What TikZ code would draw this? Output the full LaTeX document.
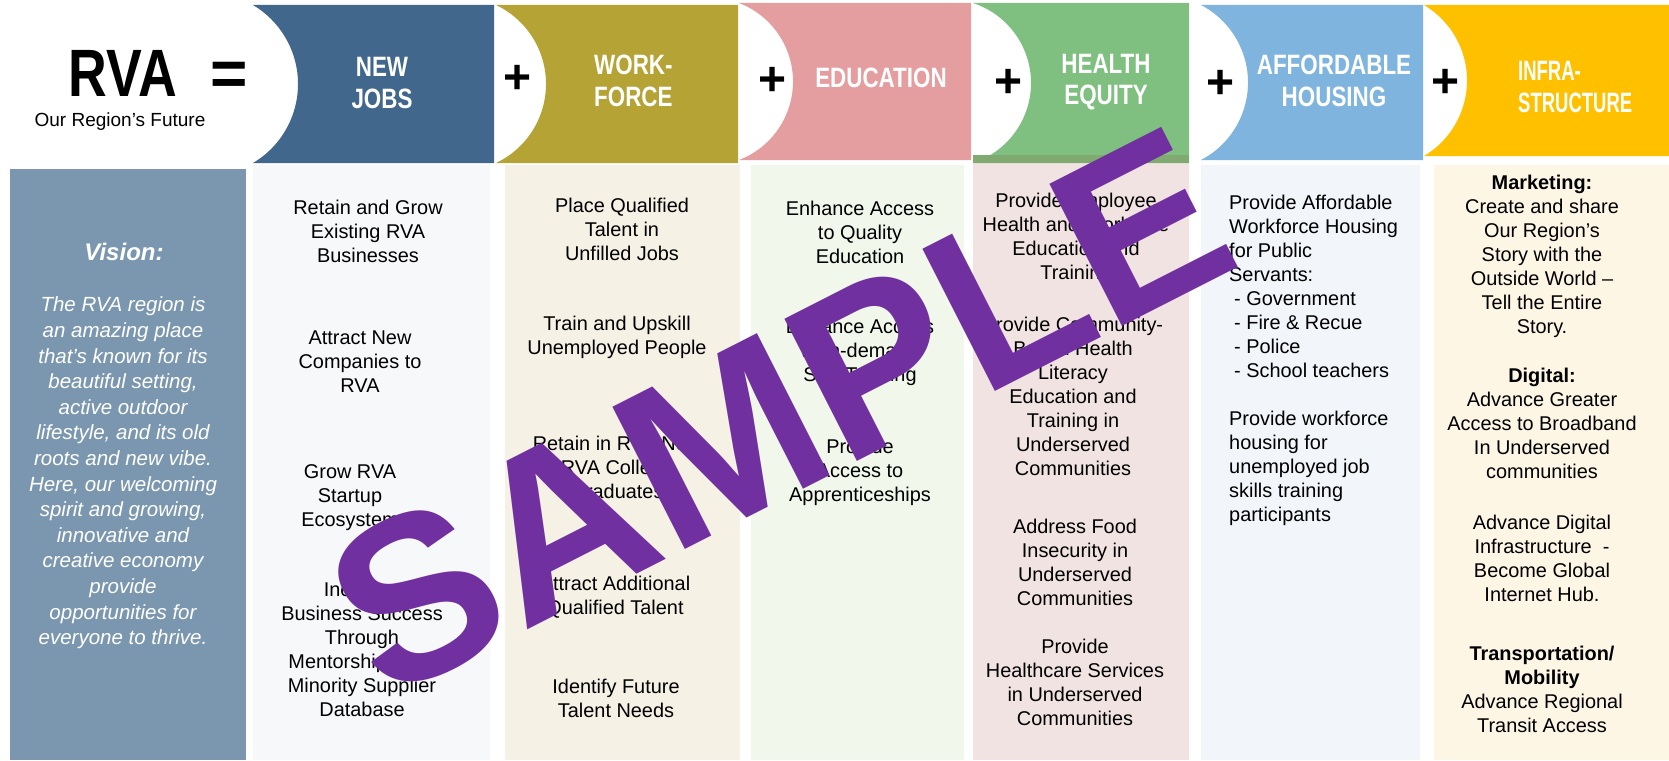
\documentclass[tikz,border=0pt]{standalone}
\usepackage{fontspec}
\setmainfont{Liberation Sans}
\newfontfamily\narrowfont[FakeStretch=0.8]{Liberation Sans}
\newfontfamily\tightfont[FakeStretch=0.66]{Liberation Sans}
\usetikzlibrary{positioning}

\definecolor{jobsblue}{HTML}{42678C}
\definecolor{forcegold}{HTML}{B5A335}
\definecolor{edupink}{HTML}{E59E9F}
\definecolor{healthgreen}{HTML}{7FBF80}
\definecolor{healthstrip}{HTML}{80AA70}
\definecolor{houseblue}{HTML}{7FB4DE}
\definecolor{infrayellow}{HTML}{FFC000}
\definecolor{visionslate}{HTML}{7B97AF}
\definecolor{jobslight}{HTML}{F7F8FA}
\definecolor{forcelight}{HTML}{F5F1E5}
\definecolor{edulight}{HTML}{F1F7EA}
\definecolor{healthlight}{HTML}{F2E3E3}
\definecolor{houselight}{HTML}{F2F5F9}
\definecolor{infralight}{HTML}{FDF6E4}
\definecolor{stampviolet}{HTML}{7030A0}

% left, right, top, bottom, bulge, colour
\newcommand{\headtab}[6]{%
    \pgfmathsetmacro{\tabhalf}{(#4-#3)/2}
    \pgfmathsetmacro{\tabrad}{(\tabhalf*\tabhalf+#5*#5)/(2*#5)}
    \pgfmathsetmacro{\tabang}{asin(\tabhalf/\tabrad)}
    \fill[#6] (#1,-#3) -- (#2,-#3) -- (#2,-#4) -- (#1,-#4)
        arc[start angle=-\tabang, end angle=\tabang, radius=\tabrad] -- cycle;
}

\tikzset{
    goal/.style={align=center, inner sep=0pt, text=black,
        font=\fontsize{19.9}{24}\selectfont},
    tabtext/.style={align=center, inner sep=0pt, text=white,
        font=\narrowfont\bfseries\fontsize{28}{31.5}\selectfont},
    plus/.style={inner sep=0pt, font=\bfseries\fontsize{48}{48}\selectfont},
}

\begin{document}
\begin{tikzpicture}[x=1pt, y=1pt]
    \useasboundingbox (0,0) rectangle (1669,-760);
    \fill[white] (0,0) rectangle (1669,-760);

    % columns
    \fill[visionslate] (10,-169) rectangle (246,-760);
    \fill[jobslight] (253,-165) rectangle (490,-760);
    \fill[forcelight] (505,-165) rectangle (740,-760);
    \fill[edulight] (751,-165) rectangle (964,-760);
    \fill[healthlight] (973,-163) rectangle (1189,-760);
    \fill[houselight] (1201,-165) rectangle (1420,-760);
    \fill[infralight] (1434,-165) rectangle (1669,-760);

    % tabs
    \headtab{253}{494}{5}{163}{45}{jobsblue}
    \headtab{496}{738}{5}{163}{50}{forcegold}
    \headtab{739}{971}{3}{160}{54}{edupink}
    \headtab{973}{1189}{3}{163}{58}{healthgreen}
    \fill[healthstrip] (973,-155) rectangle (1189,-163);
    \headtab{1201}{1423}{5}{160}{47}{houseblue}
    \headtab{1424}{1669}{5}{156}{43}{infrayellow}

    \node[inner sep=0pt, font=\narrowfont\bfseries\fontsize{67}{67}\selectfont] (rva) at (123,-73) {RVA};
    \node[inner sep=0pt, font=\bfseries\fontsize{64}{64}\selectfont] (equals) at (229,-79) {=};
    \node[inner sep=0pt, font=\fontsize{19}{22}\selectfont] (future) at (120,-122) {Our Region’s Future};

    \node[tabtext] (jobs-head) at (382,-83) {NEW\\JOBS};
    \node[plus] (plus-force) at (518,-79) {+};
    \node[tabtext, align=left, anchor=west] (force-head) at (594,-81) {WORK-\\FORCE};
    \node[plus] (plus-edu) at (773,-81) {+};
    \node[tabtext] (edu-head) at (881,-78) {EDUCATION};
    \node[plus] (plus-health) at (1008,-83) {+};
    \node[tabtext] (health-head) at (1106,-82) {HEALTH\\EQUITY};
    \node[plus] (plus-house) at (1220,-84) {+};
    \node[tabtext] (house-head) at (1334,-81) {AFFORDABLE\\HOUSING};
    \node[plus] (plus-infra) at (1445,-83) {+};
    \node[tabtext, align=left, anchor=west, font=\tightfont\bfseries\fontsize{28}{31.5}\selectfont]
        (infra-head) at (1518,-87) {INFRA-\\STRUCTURE};

    \node[inner sep=0pt, text=white, font=\bfseries\itshape\fontsize{24}{28}\selectfont]
        (vision-head) at (124,-252) {Vision:};
    \node[align=center, inner sep=0pt, text=white, font=\itshape\fontsize{20.5}{25.6}\selectfont]
        (vision-body) at (123,-473) {The RVA region is\\an amazing place\\that’s known for its\\beautiful setting,\\active outdoor\\lifestyle, and its old\\roots and new vibe.\\Here, our welcoming\\spirit and growing,\\innovative and\\creative economy\\provide\\opportunities for\\everyone to thrive.};

    \node[goal] (jobs-1) at (368,-231) {Retain and Grow\\Existing RVA\\Businesses};
    \node[goal] (jobs-2) at (360,-362) {Attract New\\Companies to\\RVA};
    \node[goal] (jobs-3) at (350,-498) {Grow RVA\\Startup\\Ecosystem};
    \node[goal] (jobs-4) at (362,-650) {Increase\\Business Success\\Through\\Mentorships and\\Minority Supplier\\Database};

    \node[goal] (force-1) at (622,-229) {Place Qualified\\Talent in\\Unfilled Jobs};
    \node[goal] (force-2) at (617,-337) {Train and Upskill\\Unemployed People};
    \node[goal] (force-3) at (617,-467) {Retain in RVA New\\RVA College\\Graduates};
    \node[goal] (force-4) at (615,-597) {Attract Additional\\Qualified Talent};
    \node[goal] (force-5) at (616,-698) {Identify Future\\Talent Needs};

    \node[goal] (edu-1) at (860,-232) {Enhance Access\\to Quality\\Education};
    \node[goal] (edu-2) at (860,-352) {Enhance Access\\to In-demand\\Skill Training};
    \node[goal] (edu-3) at (860,-472) {Provide\\Access to\\Apprenticeships};

    \node[goal] (health-1) at (1076,-238) {Provide Employee\\Health and Workcare\\Education and\\Training};
    \node[goal] (health-2) at (1073,-396) {Provide Community-\\Based Health\\Literacy\\Education and\\Training in\\Underserved\\Communities};
    \node[goal] (health-3) at (1075,-562) {Address Food\\Insecurity in\\Underserved\\Communities};
    \node[goal] (health-4) at (1075,-682) {Provide\\Healthcare Services\\in Underserved\\Communities};

    \node[goal, align=left, anchor=west] (house-1) at (1229,-360) {Provide Affordable\\Workforce Housing\\for Public\\Servants:\\\hspace{5pt}- Government\\\hspace{5pt}- Fire \& Recue\\\hspace{5pt}- Police\\\hspace{5pt}- School teachers\\[24pt]Provide workforce\\housing for\\unemployed job\\skills training\\participants};

    \node[goal] (infra-1) at (1542,-256) {\textbf{Marketing:}\\Create and share\\Our Region’s\\Story with the\\Outside World –\\Tell the Entire\\Story.};
    \node[goal] (infra-2) at (1542,-423) {\textbf{Digital:}\\Advance Greater\\Access to Broadband\\In Underserved\\communities};
    \node[goal] (infra-3) at (1542,-558) {Advance Digital\\Infrastructure\ \ -\\Become Global\\Internet Hub.};
    \node[goal] (infra-4) at (1542,-689) {\textbf{Transportation/}\\\textbf{Mobility}\\Advance Regional\\Transit Access};

    \node[rotate=27, inner sep=0pt, text=stampviolet, font=\bfseries\fontsize{232}{232}\selectfont]
        (stamp) at (779,-412) {SAMPLE};
\end{tikzpicture}
\end{document}
